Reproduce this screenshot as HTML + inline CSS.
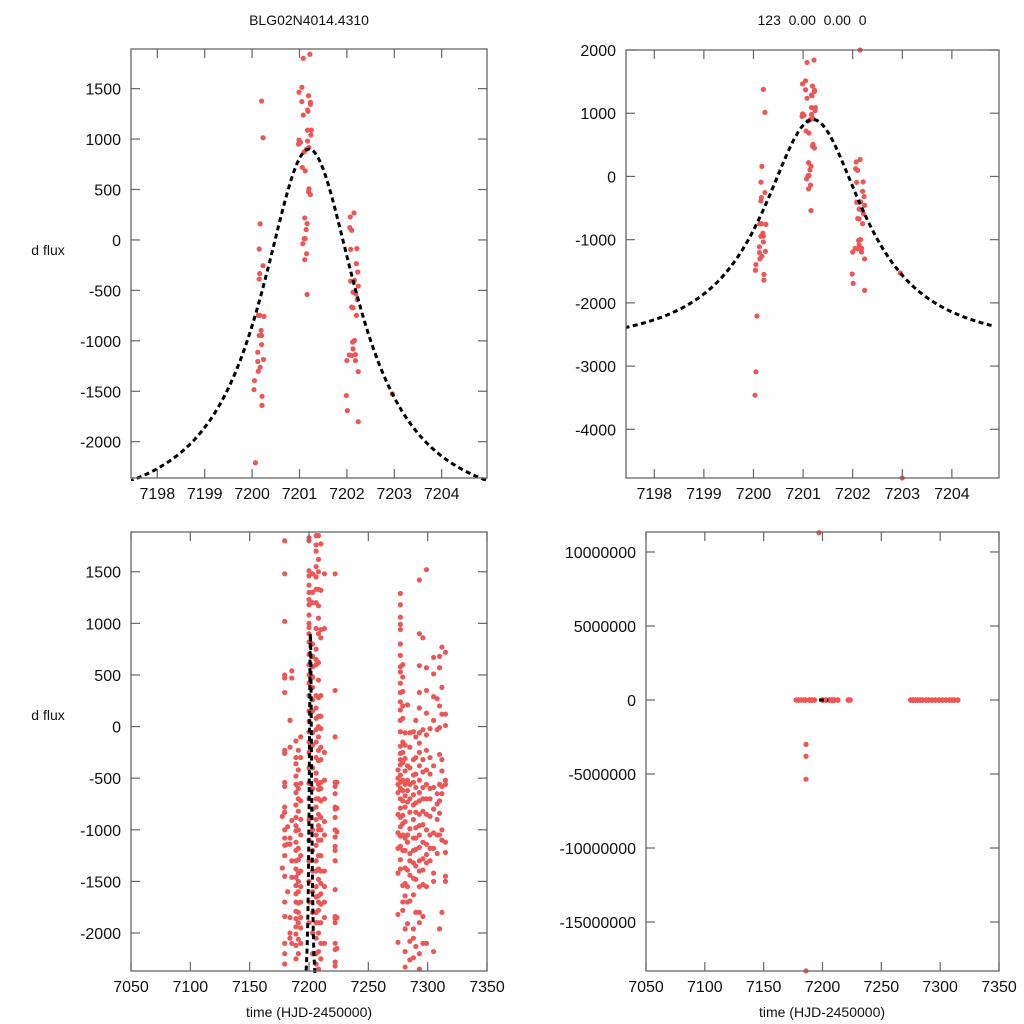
<!DOCTYPE html>
<html><head><meta charset="utf-8">
<style>
html,body{margin:0;padding:0;background:#fff;}
svg{display:block;font-family:"Liberation Sans",Arial,sans-serif;}
</style></head>
<body>
<svg id="fig" width="1024" height="1024" viewBox="0 0 1024 1024" xmlns="http://www.w3.org/2000/svg">
<rect width="1024" height="1024" fill="#fff"/>
<text x="309" y="25" text-anchor="middle" font-size="14" fill="#111">BLG02N4014.4310</text>
<text x="812" y="25" text-anchor="middle" font-size="14" fill="#111" xml:space="preserve">123  0.00  0.00  0</text>
<text x="48" y="255" text-anchor="middle" font-size="14" fill="#111">d flux</text>
<text x="48" y="720" text-anchor="middle" font-size="14" fill="#111">d flux</text>
<text x="309" y="1017" text-anchor="middle" font-size="14" fill="#111">time (HJD-2450000)</text>
<text x="822" y="1017" text-anchor="middle" font-size="14" fill="#111">time (HJD-2450000)</text>
</svg>
<script>
// ---- Zoomed data (top panels) ----
const zoomT = [7200.20,7200.23,7200.17,7200.15,7200.16,7200.15,7200.23,7200.13,7200.16,7200.25,7200.19,7200.15,7200.20,7200.20,7200.12,7200.24,7200.12,7200.17,7200.13,7200.05,7200.04,7200.21,7200.21,7200.07,
 7201.08,7201.22,7201.05,7200.99,7201.19,7201.05,7201.23,7201.23,7201.08,7201.17,7201.18,7201.17,7201.25,7201.24,7200.99,7201.17,7200.98,7201.02,7201.10,7201.15,7201.20,7201.06,7201.12,7201.20,7201.19,7201.23,7201.11,7201.16,7201.14,7201.10,7201.07,7201.12,7201.15,7201.11,7201.16,
 7202.15,7202.07,7202.06,7202.10,7202.21,7202.08,7202.20,7202.23,7202.16,7202.08,7202.24,7202.13,7202.19,7202.22,7202.10,7202.13,7202.20,7202.16,7202.12,7202.13,7202.05,7202.18,7202.11,7202.00,7202.18,7202.24,7201.99,7202.01,7202.24,7202.96];
const zoomV = [1377,1013,159,-90,-334,-388,-255,-748,-748,-758,-897,-947,-947,-1037,-1113,-1185,-1205,-1262,-1302,-1394,-1484,-1550,-1640,-2209,
 1801,1841,1513,1464,1430,1371,1364,1344,1238,1288,1275,1089,1089,1040,990,980,950,967,874,900,917,719,685,507,477,450,218,162,103,13,-37,13,-136,-196,-540,
 268,228,122,96,-86,-93,-235,-318,-401,-408,-457,-517,-534,-593,-666,-672,-748,-997,-1013,-1080,-1140,-1136,-1146,-1196,-1196,-1305,-1543,-1692,-1802,-1527];
// extra outliers seen only in the wide-range top-right panel
const outT = [7200.05,7200.03,7202.15,7203.0];
const outV = [-3090,-3460,2000,-4770];

// ---- Full season data (bottom panels), grouped by time column ----
const seasonTimes = [7179.5,7177.5,7182,7184,7185.5,7189,7191,7193,7200,7203,7206,7208,7210,7213,7222,7223.5,7275,7277,7279,7281,7283,7285,7288,7290,7293,7296,7299,7302,7305,7308,7310,7312,7315];
const seasonValues = [
 [1800,1480,1020,500,470,330,-230,-260,-540,-580,-780,-830,-1000,-1080,-1150,-1250,-1450,-1700,-1840,-2100,-2200,-2300],
 [-870,-1370],
 [-970,-1140,-1600],
 [60,-200,-1080,-1140,-1850,-2000,-2050],
 [540,470,-910,-1300,-1460,-2100],
 [-140,-300,-360,-480,-560,-640,-760,-880,-960,-1010,-1120,-1200,-1300,-1380,-1460,-1540,-1620,-1700,-1790,-1860,-1940,-2010,-2120,-2250],
 [-230,-420,-600,-700,-820,-1000,-1180,-1290,-1420,-1500,-1600,-1710,-1800,-1900,-2060,-2200],
 [-100,-300,-550,-720,-900,-1050,-1250,-1400,-1550,-1700,-1850,-1950,-2100],
 [1830,1800,1510,1460,1370,1300,1230,1180,1080,1000,960,900,820,700,600,500,420,300,150,50,-50,-150,-250,-400,-550,-700,-900,-1100,-1300,-1500,-1700,-1900],
 [1480,1300,1200,800,680,580,480,380,260,150,-60,-180,-400,-600,-800,-1000,-1200,-1400,-1600,-1800,-2000,-2200],
 [1850,1760,1700,1550,1450,1330,1200,950,750,650,600,300,180,80,-30,-150,-300,-450,-520,-700,-780,-900,-1050,-1150,-1300,-1400,-1550,-1650,-1800,-1900,-2050,-2200,-2300],
 [1850,1620,1500,1330,1170,1050,900,620,450,280,100,0,-100,-230,-330,-560,-610,-700,-850,-960,-1000,-1100,-1250,-1380,-1480,-1640,-1700,-1780,-1900,-2000,-2180,-2350],
 [1770,1320,940,860,300,100,-20,-200,-320,-540,-600,-720,-880,-1000,-1100,-1250,-1400,-1520,-1620,-1720,-1900,-2100,-2250],
 [1480,950,-250,-520,-700,-920,-1050,-1400,-1550,-1700,-1850,-2100],
 [1480,350,-100,-540,-580,-650,-780,-800,-880,-1000,-1070,-1160,-1200,-1300,-1580,-1840,-1860,-1900,-2100,-2160,-2280,-2320],
 [-540,-790,-1020,-1850,-2150],
 [-420,-500,-560,-640,-850,-1030,-1180,-1420,-1820,-2090],
 [1290,1180,1060,990,940,800,690,580,530,420,330,240,160,60,-50,-190,-260,-320,-370,-470,-540,-600,-700,-790,-880,-970,-1060,-1160,-1290,-1380],
 [600,480,340,200,80,-150,-250,-350,-520,-620,-720,-860,-940,-1050,-1200,-1540,-1700,-1780],
 [-60,-180,-310,-430,-560,-670,-780,-920,-1080,-1200,-1370,-1520,-1640,-1960,-2180,-2330],
 [210,-380,-520,-620,-730,-1050,-1120,-1390,-1550,-1700,-1910],
 [-60,-200,-400,-560,-700,-830,-990,-1230,-1300,-1440,-1690,-2080,-2260],
 [-50,-320,-470,-540,-660,-760,-900,-1080,-1200,-1320,-1470,-1630,-1960,-2050,-2240],
 [60,-100,-300,-460,-590,-740,-830,-980,-1080,-1190,-1350,-1480,-1800,-2130],
 [1420,900,590,330,180,-60,-160,-250,-380,-520,-640,-720,-850,-960,-1050,-1170,-1300,-1400,-1550,-1800,-1900,-2200,-2350],
 [860,-30,-320,-440,-590,-700,-820,-950,-1120,-1280,-1390,-1530,-1840,-2100],
 [1520,570,350,130,-80,-230,-420,-560,-700,-850,-1000,-1140,-1240,-1320,-1550,-2100],
 [-20,-300,-460,-600,-700,-870,-1050,-1180,-1300],
 [670,510,290,60,-380,-590,-800,-1030,-1180,-1420,-1500,-2180],
 [270,-30,-650,-750,-900,-1050,-1230],
 [680,570,200,-10,-270,-560,-720,-840,-1050,-1960],
 [770,380,120,-320,-430,-580,-650,-1000,-1100,-1800],
 [720,120,10,-520,-560,-1120,-1220,-1450,-1500]
];
// huge outliers only visible in the bottom-right panel
const bigOutT = [7197,7186,7186,7186,7186];
const bigOutV = [11300000,-3000000,-3800000,-5350000,-18300000];

// ---- Model parameters (Lorentzian-shaped microlensing fit) ----
const modelPeakT = [7201.2];
const modelPeak = [900];
const modelBase = [-2750];
const modelWidth = [1.25];

// ---- Tick labels ----
const tickTopX = [7198,7199,7200,7201,7202,7203,7204];
const tickTLY = [-2000,-1500,-1000,-500,0,500,1000,1500];
const tickTRY = [-4000,-3000,-2000,-1000,0,1000,2000];
const tickBotX = [7050,7100,7150,7200,7250,7300,7350];
const tickBLY = [-2000,-1500,-1000,-500,0,500,1000,1500];
const tickBRY = [-15000000,-10000000,-5000000,0,5000000,10000000];

const NS = "http://www.w3.org/2000/svg";
const svg = document.getElementById('fig');
function mk(tag, attrs, parent){
  const e = document.createElementNS(NS, tag);
  for (const k in attrs) e.setAttribute(k, attrs[k]);
  (parent||svg).appendChild(e);
  return e;
}
function model(t){
  const d = (t - modelPeakT[0]) / modelWidth[0];
  return modelBase[0] + (modelPeak[0] - modelBase[0]) / (1 + d*d);
}

function panel(p){
  const g = mk('g', {});
  
  
  const sx = v => p.L + (v - p.x0) / (p.x1 - p.x0) * (p.R - p.L);
  const sy = v => p.B - (v - p.y0) / (p.y1 - p.y0) * (p.B - p.T);
  const cid = 'clip-' + p.name;
  const cp = mk('clipPath', {id: cid}, g);
  mk('rect', {x: p.L, y: p.T - 3, width: p.R - p.L, height: p.B - p.T + 6}, cp);
  const plot = mk('g', {'clip-path': 'url(#' + cid + ')'}, g);
  
  
  const pts = mk('g', {fill: '#ec5656'}, plot);
  
  
  p.series.forEach(s => {
    for (let i = 0; i < s.t.length; i++) {
      const c = mk('circle', {cx: sx(s.t[i]).toFixed(2), cy: sy(s.v[i]).toFixed(2), r: 2.6}, pts);
      
      
    }
  });
  let d = '';
  for (let t = p.m0; t <= p.m1 + 1e-9; t += p.mstep) {
    d += (d ? 'L' : 'M') + sx(t).toFixed(2) + ' ' + sy(model(t)).toFixed(2);
  }
  const path = mk('path', {d: d, fill: 'none', stroke: '#000', 'stroke-width': 3, 'stroke-dasharray': '5 3.5'}, plot);
  
  
  const fr = mk('rect', {x: p.L, y: p.T, width: p.R - p.L, height: p.B - p.T, fill: 'none', stroke: '#666', 'stroke-width': 1.3}, g);
  
  
  p.xt.forEach(v => {
    const x = sx(v);
    mk('line', {x1: x, x2: x, y1: p.B, y2: p.B - 9, stroke: '#666', 'stroke-width': 1.2}, g);
    mk('line', {x1: x, x2: x, y1: p.T, y2: p.T + 9, stroke: '#666', 'stroke-width': 1.2}, g);
    const tx = mk('text', {x: x, y: p.B + 21, 'text-anchor': 'middle', 'font-size': 16, fill: '#111'}, g);
    tx.textContent = v;
    
    
  });
  p.yt.forEach(v => {
    const y = sy(v);
    mk('line', {x1: p.L, x2: p.L + 9, y1: y, y2: y, stroke: '#666', 'stroke-width': 1.2}, g);
    mk('line', {x1: p.R, x2: p.R - 9, y1: y, y2: y, stroke: '#666', 'stroke-width': 1.2}, g);
    const ty = mk('text', {x: p.L - 10, y: y + 6, 'text-anchor': 'end', 'font-size': 16, fill: '#111'}, g);
    ty.textContent = v;
    
    
  });
}

const seasonT = [], seasonV = [];
seasonTimes.forEach((t, i) => seasonValues[i].forEach(v => { seasonT.push(t); seasonV.push(v); }));

panel({name:'panel-top-left', L:131, R:487, T:49, B:478, x0:7197.445, x1:7204.956, y0:-2360, y1:1893,
  xt:tickTopX, yt:tickTLY, series:[{t:zoomT, v:zoomV}], m0:7197.4, m1:7205, mstep:0.01});
panel({name:'panel-top-right', L:626, R:999, T:50, B:478, x0:7197.43, x1:7204.95, y0:-4770, y1:2000,
  xt:tickTopX, yt:tickTRY, series:[{t:zoomT, v:zoomV},{t:outT, v:outV}], m0:7197.4, m1:7204.8, mstep:0.01});
panel({name:'panel-bottom-left', L:131, R:487, T:532, B:971, x0:7050, x1:7350, y0:-2368, y1:1885,
  xt:tickBotX, yt:tickBLY, series:[{t:seasonT, v:seasonV}], m0:7195, m1:7207, mstep:0.005});
panel({name:'panel-bottom-right', L:646, R:999, T:532, B:971, x0:7050, x1:7350, y0:-18310000, y1:11350000,
  xt:tickBotX, yt:tickBRY, series:[{t:seasonT, v:seasonV},{t:bigOutT, v:bigOutV}], m0:7197, m1:7205, mstep:0.01});
</script>
</body></html>
